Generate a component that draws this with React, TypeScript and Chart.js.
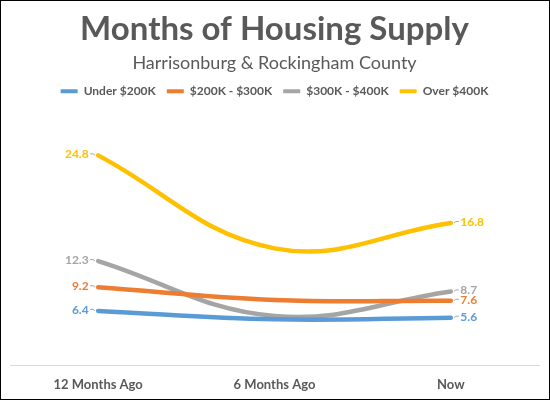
import React, { useEffect, useRef } from "react";
import { Chart, registerables } from "chart.js";

Chart.register(...registerables);

const categories = ["12 Months Ago", "6 Months Ago", "Now"];
const seriesNames = ["Under $200K", "$200K - $300K", "$300K - $400K", "Over $400K"];
const under200 = [6.4, 5.4, 5.6];
const from200to300 = [9.2, 7.7, 7.6];
const from300to400 = [12.3, 5.8, 8.7];
const over400 = [24.8, 13.8, 16.8];
const colors = ["#5B9BD5", "#ED7D31", "#A5A5A5", "#FFC000"];

const FONT = "Lato, 'Open Sans', sans-serif";

const endLabels = {
  id: "endLabels",
  afterDatasetsDraw(chart: any) {
    const ctx = chart.ctx;
    ctx.save();
    ctx.font = `bold 12px ${FONT}`;
    ctx.textBaseline = "middle";
    chart.data.datasets.forEach((ds: any, i: number) => {
      const meta = chart.getDatasetMeta(i);
      const n = meta.data.length;
      [0, n - 1].forEach((idx) => {
        const pt = meta.data[idx];
        const v = ds.data[idx];
        const s = idx === 0 ? -1 : 1;
        ctx.strokeStyle = "#A6A6A6";
        ctx.lineWidth = 1;
        ctx.beginPath();
        ctx.moveTo(pt.x + s * 8, pt.y - 1.5);
        ctx.lineTo(pt.x + s * 5, pt.y - 1.5);
        ctx.lineTo(pt.x + s * 3, pt.y);
        ctx.stroke();
        ctx.fillStyle = colors[i];
        ctx.textAlign = idx === 0 ? "right" : "left";
        ctx.fillText(v.toFixed(1), pt.x + s * 9.5, pt.y - 1);
      });
    });
    ctx.restore();
  },
};

export default function App() {
  const ref = useRef<HTMLCanvasElement>(null);
  useEffect(() => {
    document.body.style.margin = "0";
    const seriesData = [under200, from200to300, from300to400, over400];
    const chart = new Chart(ref.current as HTMLCanvasElement, {
      type: "line",
      data: {
        labels: categories,
        datasets: seriesNames.map((name, i) => ({
          label: name,
          data: seriesData[i],
          borderColor: colors[i],
          backgroundColor: colors[i],
          borderWidth: 4.5,
          pointRadius: 0,
          tension: 0.4,
          borderCapStyle: "round",
          borderJoinStyle: "round",
          fill: false,
          clip: false,
        })),
      },
      options: {
        responsive: false,
        animation: false,
        devicePixelRatio: 1,
        layout: { padding: { left: 9, right: 10, top: 0, bottom: 0 } },
        plugins: {
          title: {
            display: true,
            text: "Months of Housing Supply",
            color: "#595959",
            font: { family: FONT, size: 33, weight: "bold" },
            padding: { top: 9, bottom: 0 },
          },
          subtitle: {
            display: true,
            text: "Harrisonburg & Rockingham County",
            color: "#595959",
            font: { family: FONT, size: 18, weight: "normal" },
            padding: { top: 3, bottom: 0 },
          },
          legend: {
            display: true,
            position: "top",
            labels: {
              boxWidth: 17,
              boxHeight: 4,
              padding: 11,
              color: "#595959",
              font: { family: FONT, size: 12, weight: "bold" },
              generateLabels: (c: any) =>
                c.data.datasets.map((ds: any, i: number) => ({
                  text: ds.label,
                  fillStyle: colors[i],
                  strokeStyle: colors[i],
                  lineWidth: 0,
                  hidden: false,
                  datasetIndex: i,
                  fontColor: "#595959",
                })),
            },
          },
          tooltip: { enabled: false },
        },
        scales: {
          x: {
            offset: true,
            grid: { display: false, drawTicks: false },
            border: { display: true, color: "#D9D9D9", width: 1 },
            ticks: {
              color: "#595959",
              font: { family: FONT, size: 13, weight: "bold" },
              padding: 12,
              maxRotation: 0,
            },
            afterFit: (s: any) => {
              s.height = 34;
            },
          },
          y: { display: false, min: 0, max: 30.5 },
        },
      },
      plugins: [endLabels],
    } as any);
    return () => chart.destroy();
  }, []);
  return (
    <div
      style={{
        width: 550,
        height: 400,
        boxSizing: "border-box",
        border: "1px solid #000",
        background: "#fff",
      }}
    >
      <canvas ref={ref} width={548} height={398} style={{ display: "block" }} />
    </div>
  );
}
